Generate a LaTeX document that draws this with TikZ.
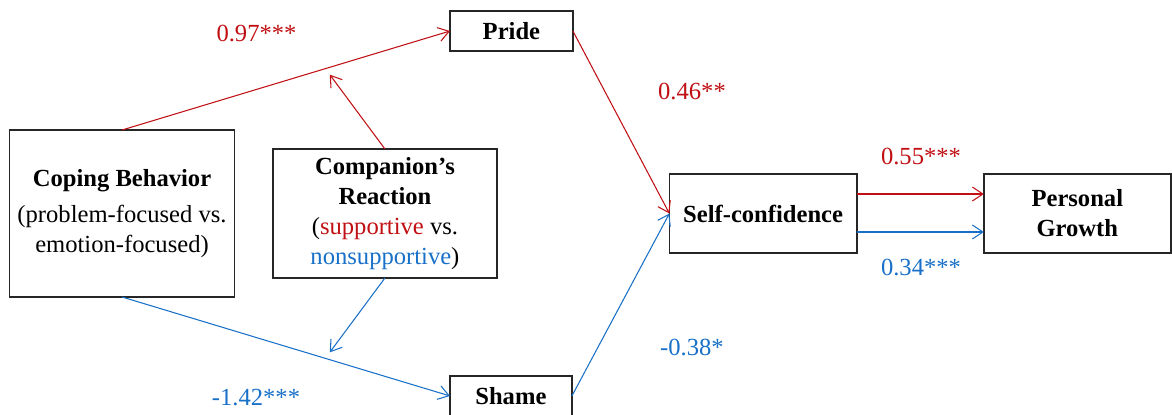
\documentclass[tikz,border=0pt]{standalone}
\usepackage{fontspec}
\setmainfont{Liberation Serif}
\usepackage{xcolor}
\usetikzlibrary{calc}
\usetikzlibrary{positioning}
\usetikzlibrary{arrows.meta}
\definecolor{posred}{RGB}{192,16,20}
\definecolor{negblue}{RGB}{24,112,200}

\begin{document}
\begin{tikzpicture}[x=0.02cm, y=-0.02cm]

                \def\h{1.58cm}
                \def\w{4.31cm}

                % Styles of the boxes, the paths and the coefficients
                \tikzset{
                    box/.style={draw=black!85, line width=0.8pt, inner sep=0pt,
                        outer sep=0pt, align=center,
                        font=\fontsize{14pt}{17pt}\selectfont},
                    link/.style={line width=0.6pt,
                        -{Straight Barb[length=6pt, width=8pt]}},
                    coef/.style={inner sep=0pt,
                        font=\fontsize{14pt}{17pt}\selectfont}
                }

                \useasboundingbox (0,0) rectangle (1172,415);

                % Scope used for the boxes of the model
                \begin{scope}

                    \node[box, minimum width=4.5cm, minimum height=3.34cm]
                    (cope) at (122,213.5)
                    {\textbf{Coping Behavior}\\[4pt]
                    (problem-focused vs.\\emotion-focused)};
                    \node[box, minimum width=4.48cm, minimum height=2.58cm]
                    (react) [right=0.77cm of cope]
                    {\textbf{Companion's}\\\textbf{Reaction}\\
                    (\textcolor{posred}{supportive} vs.\\
                    \textcolor{negblue}{nonsupportive})};
                    \node[box, minimum width=2.46cm, minimum height=0.8cm]
                    (pride) [above right=\h and \w of cope]
                    {\textbf{Pride}};
                    \node[box, minimum width=2.44cm, minimum height=0.8cm]
                    (shame) [below right=\h and \w of cope]
                    {\textbf{Shame}};
                    \node[box, minimum width=3.75cm, minimum height=1.58cm]
                    (conf) [right=3.45cm of react]
                    {\textbf{Self-confidence}};
                    \node[box, minimum width=3.74cm, minimum height=1.58cm]
                    (growth) [right=2.54cm of conf]
                    {\textbf{Personal}\\\textbf{Growth}};
                \end{scope}

                % Points where the moderator meets the two paths
                \coordinate (modup) at ($(cope.north)!0.62!(pride.west)$);
                \coordinate (moddown) at ($(cope.south)!0.62!(shame.west)$);

                \begin{scope}
                    \draw[link, posred] (cope.north) -- (pride.west);
                    \draw[link, negblue] (cope.south) -- (shame.west);
                    \draw[link, posred, shorten >=0.15cm] (react.north) -- (modup);
                    \draw[link, negblue, shorten >=0.15cm] (react.south) -- (moddown);
                    \draw[link, posred] (pride.east) -- (conf.west);
                    \draw[link, negblue] (shame.east) -- (conf.west);
                    \draw[link, posred] ([yshift=0.39cm]conf.east)
                    -- ([yshift=0.39cm]growth.west);
                    \draw[link, negblue] ([yshift=-0.37cm]conf.east)
                    -- ([yshift=-0.37cm]growth.west);
                \end{scope}

                % Coefficients of the paths
                \node[coef, posred] (c97) at (256.5,33) {0.97***};
                \node[coef, negblue] (c142) at (256,398) {-1.42***};
                \node[coef, posred] (c46) at (692,91) {0.46**};
                \node[coef, negblue] (c38) at (692,347) {-0.38*};
                \node[coef, posred] (c55) at (921,156) {0.55***};
                \node[coef, negblue] (c34) at (921,267) {0.34***};

\end{tikzpicture}
\end{document}
